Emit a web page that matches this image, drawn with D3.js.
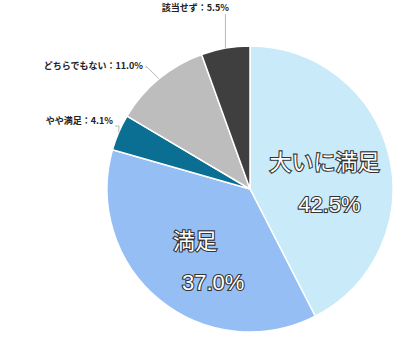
<!DOCTYPE html>
<html>
<head>
<meta charset="utf-8">
<script src="https://cdn.jsdelivr.net/npm/d3@7"></script>
<style>
  body { margin: 0; background: #fff; }
  svg { display: block; }
</style>
</head>
<body>
<div id="chart"></div>
<script>
var categories = ["大いに満足", "満足", "やや満足", "どちらでもない", "該当せず"];
var values = [42.5, 37.0, 4.1, 11.0, 5.5];
var valueLabels = ["42.5%", "37.0%", "4.1%", "11.0%", "5.5%"];
var colors = ["#c8eaf9", "#95bff4", "#0b6e93", "#bdbdbd", "#3f3f3f"];

var width = 400, height = 354;
var cx = 250, cy = 189, radius = 143;

var svg = d3.select("#chart").append("svg")
    .attr("width", width)
    .attr("height", height);

var g = svg.append("g")
    .attr("transform", "translate(" + cx + "," + cy + ")");

var data = categories.map(function(c, i) {
    return {name: c, value: values[i], label: valueLabels[i], color: colors[i], i: i};
});

var pie = d3.pie().sort(null).value(d => d.value);
var arcs = pie(data);

var arc = d3.arc().innerRadius(0).outerRadius(radius);
var labelArc = d3.arc().innerRadius(radius * 0.55).outerRadius(radius * 0.55);

g.selectAll("path.slice")
    .data(arcs)
    .join("path")
    .attr("class", "slice")
    .attr("d", arc)
    .attr("fill", d => d.data.color)
    .attr("stroke", "#fff")
    .attr("stroke-width", 1.5);

// big labels inside the two large slices
var big = arcs.filter(d => d.data.value > 20);
var bigOffsets = [
    {dx1: -2, dy1: -8, dx2: 3, dy2: 34},
    {dx1: -5, dy1: -8, dx2: 13, dy2: 33}
];
big.forEach(function(d, k) {
    var c = labelArc.centroid(d);
    var o = bigOffsets[k];
    g.append("text")
        .attr("x", c[0] + o.dx1)
        .attr("y", c[1] + o.dy1)
        .attr("dy", "0.35em")
        .attr("text-anchor", "middle")
        .attr("font-family", "'Noto Sans CJK JP', 'Noto Sans', sans-serif")
        .attr("font-size", 22)
        .attr("fill", "#fff")
        .attr("stroke", "#333")
        .attr("stroke-width", 2.2)
        .attr("paint-order", "stroke")
        .text(d.data.name);
    g.append("text")
        .attr("x", c[0] + o.dx2)
        .attr("y", c[1] + o.dy2)
        .attr("dy", "0.35em")
        .attr("text-anchor", "middle")
        .attr("font-family", "'Liberation Sans', Arial, sans-serif")
        .attr("font-size", 22)
        .attr("fill", "#fff")
        .attr("stroke", "#333")
        .attr("stroke-width", 2.2)
        .attr("paint-order", "stroke")
        .text(d.data.label);
});

// small outside labels with leader lines (label anchor relative to center)
var small = arcs.filter(d => d.data.value < 20);
var smallPos = {
    "やや満足": {tx: -137, ty: -65, elbow: [-131, -63]},
    "どちらでもない": {tx: -107, ty: -120, elbow: [-103, -122]},
    "該当せず": {tx: -21, ty: -178, elbow: [-25, -175]}
};
small.forEach(function(d) {
    var p = smallPos[d.data.name];
    var a = (d.startAngle + d.endAngle) / 2;
    var rim = [Math.sin(a) * radius, -Math.cos(a) * radius];
    var pts;
    if (d.data.name === "該当せず") {
        pts = [rim, [rim[0], p.elbow[1]]];
    } else {
        pts = [rim, p.elbow, [p.tx + 2, p.elbow[1]]];
    }
    g.append("path")
        .attr("d", d3.line()(pts))
        .attr("fill", "none")
        .attr("stroke", "#a6a6a6")
        .attr("stroke-width", 0.8);

    g.append("text")
        .attr("x", p.tx)
        .attr("y", p.ty)
        .attr("text-anchor", "end")
        .attr("font-family", "'Noto Sans CJK JP', sans-serif")
        .attr("font-weight", "bold")
        .attr("font-size", 9)
        .attr("fill", "#222")
        .text(d.data.name + "：" + d.data.label);
});
</script>
</body>
</html>
